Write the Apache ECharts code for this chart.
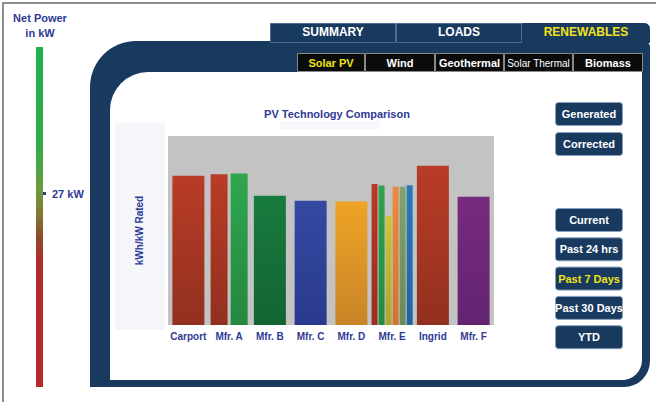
<!DOCTYPE html>
<html>
<head>
<meta charset="utf-8">
<script src="https://cdn.jsdelivr.net/npm/echarts@6/dist/echarts.min.js"></script>
<style>
  html, body { margin: 0; padding: 0; background: #fff; }
  #pvChart { width: 656px; height: 402px; }
</style>
</head>
<body>
<div id="pvChart"></div>
<script>
// data (kWh/kW rated, axis 0..5)
const categories = ['Carport', 'Mfr. A', 'Mfr. B', 'Mfr. C', 'Mfr. D', 'Mfr. E', 'Ingrid', 'Mfr. F'];
const singleValues = [3.95, null, 3.42, 3.29, 3.27, null, 4.21, 3.39];
const mfrAValues = [3.99, 4.01];
const mfrEValues = [3.73, 3.69, 2.89, 3.66, 3.66, 3.70];

const mainTabs = ['SUMMARY', 'LOADS', 'RENEWABLES'];
const subTabs = ['Solar PV', 'Wind', 'Geothermal', 'Solar Thermal', 'Biomass'];
const modeButtons = ['Generated', 'Corrected'];
const rangeButtons = ['Current', 'Past 24 hrs', 'Past 7 Days', 'Past 30 Days', 'YTD'];
const netPowerLabel = '27 kW';

// styles
const singleColors = [
  ['#b93c27', '#92301f'], null, ['#187b3e', '#136433'], ['#3549a1', '#2a3a8e'],
  ['#eea426', '#c98427'], null, ['#b93c27', '#92301f'], ['#782a7f', '#622470']
];
const mfrAColors = [['#b93c27', '#92301f'], ['#30a64e', '#24883f']];
const mfrEColors = [
  ['#b83a28', '#962f20'], ['#2ea24e', '#248a40'], ['#c9c53c', '#a9a530'],
  ['#ea8c3c', '#cf7530'], ['#82a272', '#6a8a5c'], ['#2a7ab8', '#1f65a0']
];

const NAVY = '#183a5f';
const BLUE_TEXT = '#2e3a94';
const YELLOW = '#f2e21c';
const FONT = '"Liberation Sans", Arial, sans-serif';

function grad(c) {
  return new echarts.graphic.LinearGradient(0, 0, 0, 1, [
    { offset: 0, color: c[0] },
    { offset: 1, color: c[1] }
  ]);
}

function onlyAt(idx, v) {
  return categories.map((_, i) => (i === idx ? v : null));
}

const chart = echarts.init(document.getElementById('pvChart'), null, { renderer: 'svg' });

const series = [];
series.push({
  type: 'bar',
  xAxisIndex: 0,
  barWidth: 32,
  data: singleValues.map((v, i) => (v == null ? null : {
    value: v,
    itemStyle: { color: grad(singleColors[i]) }
  }))
});
mfrAValues.forEach((v, k) => {
  series.push({
    type: 'bar',
    xAxisIndex: 1,
    barWidth: 17,
    barGap: '18%',
    itemStyle: { color: grad(mfrAColors[k]) },
    data: onlyAt(1, v)
  });
});
mfrEValues.forEach((v, k) => {
  series.push({
    type: 'bar',
    xAxisIndex: 2,
    barWidth: 6,
    barGap: '17%',
    itemStyle: { color: grad(mfrEColors[k]) },
    data: onlyAt(5, v)
  });
});

const hiddenX = (show) => ({
  type: 'category',
  data: categories,
  show: show,
  axisLine: { show: false },
  axisTick: { show: false },
  axisLabel: {
    show: show,
    color: BLUE_TEXT,
    fontFamily: FONT,
    fontWeight: 'bold',
    fontSize: 10,
    margin: 6,
    interval: 0
  }
});

// dashboard chrome
const g = [];
// page border
g.push({ type: 'polyline', z: -20, shape: { points: [[3, 402], [3, 3], [656, 3]] },
  style: { stroke: '#8c8c8c', lineWidth: 2, fill: null } });
// navy frame
g.push({ type: 'rect', z: -15, shape: { x: 90, y: 41, width: 560, height: 346, r: [46, 6, 26, 0] },
  style: { fill: NAVY } });
// main tabs
const tabX = [270, 396, 522, 650];
mainTabs.forEach((t, i) => {
  g.push({ type: 'rect', z: -14,
    shape: { x: tabX[i] + 0.5, y: 23.5, width: tabX[i + 1] - tabX[i] - 1, height: 19, r: i === 2 ? [0, 5, 0, 0] : 0 },
    style: { fill: NAVY, stroke: i === 2 ? NAVY : '#4a6c96', lineWidth: 1 } });
  g.push({ type: 'text', z: 5, x: (tabX[i] + tabX[i + 1]) / 2, y: 32,
    style: { text: t, fill: i === 2 ? YELLOW : '#ffffff', font: 'bold 12px ' + FONT,
      textAlign: 'center', textVerticalAlign: 'middle' } });
});
// inner white panel
g.push({ type: 'rect', z: -13, shape: { x: 110, y: 72, width: 532, height: 308, r: [38, 0, 20, 0] },
  style: { fill: '#ffffff' } });
// sub tabs
const subX = [297, 365, 435, 504, 573, 643];
subTabs.forEach((t, i) => {
  g.push({ type: 'rect', z: -12, shape: { x: subX[i] + 0.5, y: 53.5, width: subX[i + 1] - subX[i] - 1, height: 18 },
    style: { fill: '#0b0b0b', stroke: '#8a8a8a', lineWidth: 1 } });
  g.push({ type: 'text', z: 5, x: (subX[i] + subX[i + 1]) / 2, y: 63,
    style: { text: t, fill: i === 0 ? YELLOW : '#ffffff',
      font: (i === 3 ? '10px ' : 'bold 11px ') + FONT,
      textAlign: 'center', textVerticalAlign: 'middle' } });
});
// axis-name panel and title backdrop
g.push({ type: 'rect', z: -11, shape: { x: 115, y: 123, width: 50, height: 207 }, style: { fill: '#f5f6fa' } });
g.push({ type: 'rect', z: -11, shape: { x: 280, y: 121, width: 100, height: 8 }, style: { fill: '#f7f8fb' } });
g.push({ type: 'text', z: 5, x: 337, y: 114,
  style: { text: 'PV Technology Comparison', fill: BLUE_TEXT, font: 'bold 11px ' + FONT,
    textAlign: 'center', textVerticalAlign: 'middle' } });
// right buttons
function button(label, y, yellow) {
  g.push({ type: 'rect', z: -10, shape: { x: 555.5, y: y + 0.5, width: 67, height: 23, r: 3 },
    style: { fill: NAVY, stroke: '#8aa0bc', lineWidth: 1 } });
  g.push({ type: 'text', z: 5, x: 589, y: y + 12,
    style: { text: label, fill: yellow ? YELLOW : '#ffffff', font: 'bold 11px ' + FONT,
      textAlign: 'center', textVerticalAlign: 'middle' } });
}
modeButtons.forEach((b, i) => button(b, 102 + i * 30, false));
rangeButtons.forEach((b, i) => button(b, 208 + i * 29.3, b === 'Past 7 Days'));
// net power gauge
g.push({ type: 'text', z: 5, x: 40, y: 18,
  style: { text: 'Net Power', fill: BLUE_TEXT, font: 'bold 11px ' + FONT, textAlign: 'center', textVerticalAlign: 'middle' } });
g.push({ type: 'text', z: 5, x: 40, y: 33,
  style: { text: 'in kW', fill: BLUE_TEXT, font: 'bold 11px ' + FONT, textAlign: 'center', textVerticalAlign: 'middle' } });
g.push({ type: 'rect', z: -10, shape: { x: 36, y: 47, width: 7, height: 340 },
  style: { fill: new echarts.graphic.LinearGradient(0, 0, 0, 1, [
    { offset: 0, color: '#1fb04c' },
    { offset: 0.3, color: '#35aa48' },
    { offset: 0.42, color: '#6e9a3e' },
    { offset: 0.5, color: '#867233' },
    { offset: 0.56, color: '#8e4a2a' },
    { offset: 0.63, color: '#b02c29' },
    { offset: 1, color: '#b8282a' }
  ]) } });
g.push({ type: 'rect', z: 5, shape: { x: 43, y: 192, width: 3, height: 3 }, style: { fill: BLUE_TEXT } });
g.push({ type: 'text', z: 5, x: 52, y: 194,
  style: { text: netPowerLabel, fill: BLUE_TEXT, font: 'bold 11px ' + FONT, textAlign: 'left', textVerticalAlign: 'middle' } });

const option = {
  animation: false,
  backgroundColor: '#ffffff',
  textStyle: { fontFamily: FONT },
  graphic: { elements: g },
  grid: {
    left: 168, top: 136, width: 326, height: 189,
    show: true, backgroundColor: '#c3c3c3', borderWidth: 0
  },
  xAxis: [hiddenX(true), hiddenX(false), hiddenX(false)],
  yAxis: {
    type: 'value',
    min: 0,
    max: 5,
    name: 'kWh/kW Rated',
    nameLocation: 'middle',
    nameGap: 24,
    nameRotate: 90,
    nameTextStyle: { color: BLUE_TEXT, fontWeight: 'bold', fontSize: 10, fontFamily: FONT },
    axisLine: { show: false },
    axisTick: { show: false },
    axisLabel: { show: false },
    splitLine: { show: false }
  },
  series: series
};

chart.setOption(option);
</script>
</body>
</html>
